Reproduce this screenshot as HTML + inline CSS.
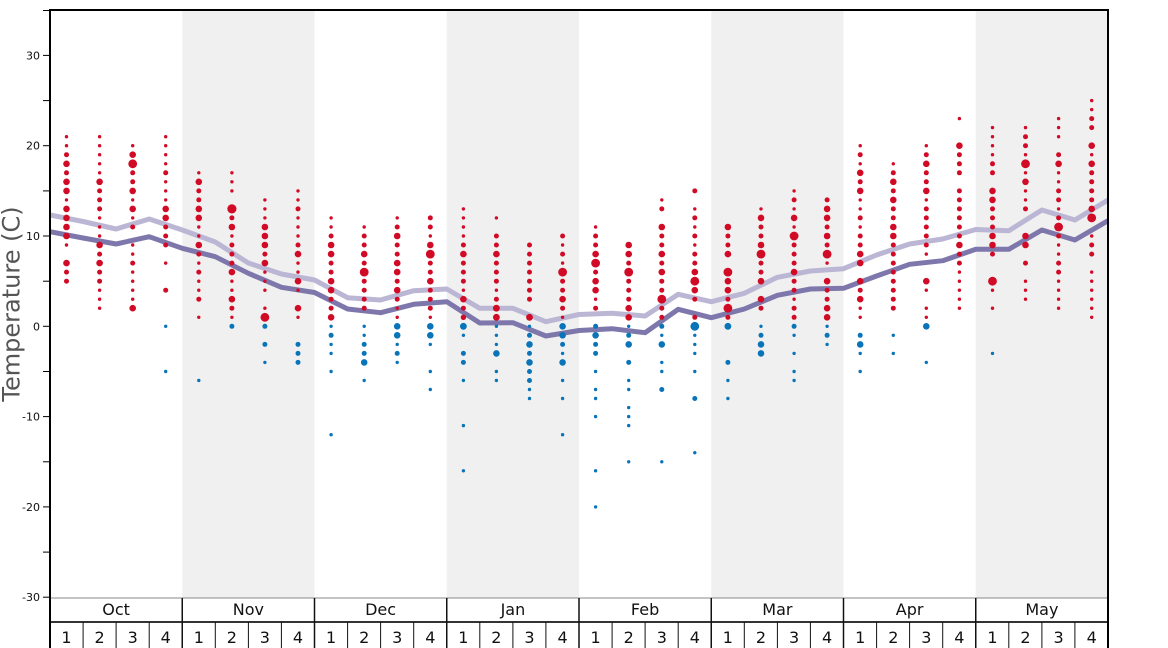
<!DOCTYPE html>
<html><head><meta charset="utf-8"><style>
html,body{margin:0;padding:0;background:#fff;}
svg{display:block;font-family:"DejaVu Sans","Liberation Sans",sans-serif;}
.r{fill:#d10a26}.b{fill:#0a74b9}
</style></head><body>
<svg width="1168" height="648" viewBox="0 0 1168 648" xmlns="http://www.w3.org/2000/svg">
<rect x="0" y="0" width="1168" height="648" fill="#fff"/>
<g fill="#f0f0f0">
<rect x="182.25" y="10" width="132.25" height="588"/>
<rect x="446.75" y="10" width="132.25" height="588"/>
<rect x="711.25" y="10" width="132.25" height="588"/>
<rect x="975.75" y="10" width="132.25" height="588"/>
</g>
<polyline fill="none" stroke="#bab6d4" stroke-width="5" stroke-linejoin="round" points="50,215 83.1,221.5 116.1,229 149.2,219 182.3,230 215.3,242 248.4,263 281.4,274 314.5,280 347.6,297.7 380.6,300 413.7,290.7 446.8,289 479.8,308.3 512.9,308.3 545.9,321.7 579,314.5 612.1,313.3 645.1,316 678.2,294.3 711.3,301.7 744.3,293.3 777.4,277.3 810.4,271 843.5,268.7 876.6,255 909.6,244 942.7,239 975.8,229.5 1008.8,230.7 1041.9,210 1074.9,220 1108,200"/>
<polyline fill="none" stroke="#7e77ab" stroke-width="5" stroke-linejoin="round" points="50,231.7 83.1,238 116.1,244 149.2,236.7 182.3,248.3 215.3,256.7 248.4,273.3 281.4,287.3 314.5,292.5 347.6,309 380.6,312.7 413.7,304.3 446.8,301.7 479.8,323 512.9,322.7 545.9,336 579,330.5 612.1,328.7 645.1,332.7 678.2,309.3 711.3,317.7 744.3,309 777.4,295.3 810.4,289 843.5,288.3 876.6,276 909.6,264.3 942.7,260.7 975.8,249.3 1008.8,249.3 1041.9,230 1074.9,240 1108,220.7"/>

<!-- Oct 1 -->
<g transform="translate(66.5,0)" class="r"><circle cy="136.7" r="1.7"/><circle cy="145.7" r="1.7"/><circle cy="154.7" r="2.5"/><circle cy="163.8" r="3.3"/><circle cy="172.8" r="2.5"/><circle cy="181.8" r="3.3"/><circle cy="190.9" r="3.3"/><circle cy="199.9" r="1.7"/><circle cy="208.9" r="3.3"/><circle cy="217.9" r="3.3"/><circle cy="227" r="3.3"/><circle cy="236" r="3.3"/><circle cy="245" r="1.7"/><circle cy="263.1" r="3.3"/><circle cy="272.1" r="2.5"/><circle cy="281.2" r="2.5"/></g>
<!-- Oct 2 -->
<g transform="translate(99.6,0)" class="r"><circle cy="136.7" r="1.7"/><circle cy="145.7" r="1.7"/><circle cy="154.7" r="1.7"/><circle cy="163.8" r="1.7"/><circle cy="172.8" r="1.7"/><circle cy="181.8" r="3.3"/><circle cy="190.9" r="2.5"/><circle cy="199.9" r="2.5"/><circle cy="208.9" r="2.5"/><circle cy="217.9" r="1.7"/><circle cy="227" r="1.7"/><circle cy="236" r="1.7"/><circle cy="245" r="3.3"/><circle cy="254.1" r="2.5"/><circle cy="263.1" r="3.3"/><circle cy="272.1" r="2.5"/><circle cy="281.2" r="2.5"/><circle cy="290.2" r="1.7"/><circle cy="299.2" r="1.7"/><circle cy="308.2" r="1.7"/></g>
<!-- Oct 3 -->
<g transform="translate(132.7,0)" class="r"><circle cy="145.7" r="1.7"/><circle cy="154.7" r="3.3"/><circle cy="163.8" r="4.4"/><circle cy="172.8" r="2.5"/><circle cy="181.8" r="2.5"/><circle cy="190.9" r="3.3"/><circle cy="199.9" r="1.7"/><circle cy="208.9" r="3.3"/><circle cy="217.9" r="1.7"/><circle cy="227" r="2.5"/><circle cy="245" r="1.7"/><circle cy="254.1" r="1.7"/><circle cy="263.1" r="2.5"/><circle cy="272.1" r="1.7"/><circle cy="281.2" r="1.7"/><circle cy="290.2" r="1.7"/><circle cy="299.2" r="1.7"/><circle cy="308.2" r="3.3"/></g>
<!-- Oct 4 -->
<g transform="translate(165.7,0)"><g class="r"><circle cy="136.7" r="1.7"/><circle cy="145.7" r="1.7"/><circle cy="154.7" r="1.7"/><circle cy="163.8" r="1.7"/><circle cy="172.8" r="2.5"/><circle cy="181.8" r="1.7"/><circle cy="190.9" r="1.7"/><circle cy="199.9" r="1.7"/><circle cy="208.9" r="3.3"/><circle cy="217.9" r="3.3"/><circle cy="227" r="2.5"/><circle cy="236" r="2.5"/><circle cy="245" r="2.5"/><circle cy="263.1" r="1.7"/><circle cy="290.2" r="2.5"/></g><g class="b"><circle cy="326.3" r="1.7"/><circle cy="371.5" r="1.7"/></g></g>
<!-- Nov 1 -->
<g transform="translate(198.8,0)"><g class="r"><circle cy="172.8" r="1.7"/><circle cy="181.8" r="3.3"/><circle cy="190.9" r="2.5"/><circle cy="199.9" r="2.5"/><circle cy="208.9" r="3.3"/><circle cy="217.9" r="3.3"/><circle cy="227" r="1.7"/><circle cy="236" r="1.7"/><circle cy="245" r="3.3"/><circle cy="254.1" r="2.5"/><circle cy="263.1" r="1.7"/><circle cy="272.1" r="2.5"/><circle cy="281.2" r="1.7"/><circle cy="290.2" r="1.7"/><circle cy="299.2" r="2.5"/><circle cy="317.3" r="1.7"/></g><g class="b"><circle cy="380.5" r="1.7"/></g></g>
<!-- Nov 2 -->
<g transform="translate(231.9,0)"><g class="r"><circle cy="172.8" r="1.7"/><circle cy="181.8" r="1.7"/><circle cy="190.9" r="1.7"/><circle cy="208.9" r="4.6"/><circle cy="217.9" r="2.5"/><circle cy="227" r="3.3"/><circle cy="236" r="1.7"/><circle cy="245" r="2.5"/><circle cy="254.1" r="2.5"/><circle cy="263.1" r="2.5"/><circle cy="272.1" r="3.3"/><circle cy="281.2" r="1.7"/><circle cy="290.2" r="1.7"/><circle cy="299.2" r="3.3"/><circle cy="308.2" r="2.5"/><circle cy="317.3" r="1.7"/></g><g class="b"><circle cy="326.3" r="2.5"/></g></g>
<!-- Nov 3 -->
<g transform="translate(264.9,0)"><g class="r"><circle cy="199.9" r="1.7"/><circle cy="208.9" r="1.7"/><circle cy="217.9" r="1.7"/><circle cy="227" r="3.3"/><circle cy="236" r="3.3"/><circle cy="245" r="3.3"/><circle cy="254.1" r="2.5"/><circle cy="263.1" r="3.3"/><circle cy="272.1" r="1.7"/><circle cy="281.2" r="1.7"/><circle cy="290.2" r="1.7"/><circle cy="308.2" r="1.7"/><circle cy="317.3" r="4.4"/></g><g class="b"><circle cy="326.3" r="2.5"/><circle cy="344.4" r="2.5"/><circle cy="362.4" r="1.7"/></g></g>
<!-- Nov 4 -->
<g transform="translate(298,0)"><g class="r"><circle cy="190.9" r="1.7"/><circle cy="199.9" r="1.7"/><circle cy="208.9" r="2.5"/><circle cy="217.9" r="1.7"/><circle cy="227" r="1.7"/><circle cy="236" r="1.7"/><circle cy="245" r="2.5"/><circle cy="254.1" r="3.3"/><circle cy="263.1" r="1.7"/><circle cy="272.1" r="1.7"/><circle cy="281.2" r="3.3"/><circle cy="290.2" r="1.7"/><circle cy="308.2" r="3.3"/><circle cy="317.3" r="1.7"/></g><g class="b"><circle cy="344.4" r="2.5"/><circle cy="353.4" r="2.5"/><circle cy="362.4" r="2.5"/></g></g>
<!-- Dec 1 -->
<g transform="translate(331.1,0)"><g class="r"><circle cy="217.9" r="1.7"/><circle cy="227" r="1.7"/><circle cy="236" r="2.5"/><circle cy="245" r="3.3"/><circle cy="254.1" r="3.3"/><circle cy="263.1" r="2.5"/><circle cy="272.1" r="2.5"/><circle cy="281.2" r="3.3"/><circle cy="290.2" r="3.3"/><circle cy="299.2" r="2.5"/><circle cy="308.2" r="2.5"/><circle cy="317.3" r="3.3"/></g><g class="b"><circle cy="326.3" r="1.7"/><circle cy="335.3" r="2.5"/><circle cy="344.4" r="1.7"/><circle cy="353.4" r="1.7"/><circle cy="371.5" r="1.7"/><circle cy="434.7" r="1.7"/></g></g>
<!-- Dec 2 -->
<g transform="translate(364.2,0)"><g class="r"><circle cy="227" r="1.7"/><circle cy="236" r="2.5"/><circle cy="245" r="2.5"/><circle cy="254.1" r="3.3"/><circle cy="263.1" r="2.5"/><circle cy="272.1" r="4.4"/><circle cy="281.2" r="2.5"/><circle cy="290.2" r="2.5"/><circle cy="299.2" r="2.5"/><circle cy="308.2" r="2.5"/></g><g class="b"><circle cy="326.3" r="1.7"/><circle cy="335.3" r="1.7"/><circle cy="344.4" r="2.5"/><circle cy="353.4" r="2.5"/><circle cy="362.4" r="3.3"/><circle cy="380.5" r="1.7"/></g></g>
<!-- Dec 3 -->
<g transform="translate(397.2,0)"><g class="r"><circle cy="217.9" r="1.7"/><circle cy="227" r="2.5"/><circle cy="236" r="3.3"/><circle cy="245" r="2.5"/><circle cy="254.1" r="2.5"/><circle cy="263.1" r="3.3"/><circle cy="272.1" r="3.3"/><circle cy="281.2" r="2.5"/><circle cy="290.2" r="3.3"/><circle cy="299.2" r="2.5"/><circle cy="308.2" r="1.7"/><circle cy="317.3" r="1.7"/></g><g class="b"><circle cy="326.3" r="3.3"/><circle cy="335.3" r="3.3"/><circle cy="344.4" r="1.7"/><circle cy="353.4" r="2.5"/><circle cy="362.4" r="1.7"/></g></g>
<!-- Dec 4 -->
<g transform="translate(430.3,0)"><g class="r"><circle cy="217.9" r="2.5"/><circle cy="227" r="2.5"/><circle cy="236" r="1.7"/><circle cy="245" r="3.3"/><circle cy="254.1" r="4.4"/><circle cy="263.1" r="2.5"/><circle cy="272.1" r="2.5"/><circle cy="281.2" r="3.3"/><circle cy="290.2" r="2.5"/><circle cy="299.2" r="2.5"/><circle cy="308.2" r="2.5"/><circle cy="317.3" r="1.7"/></g><g class="b"><circle cy="326.3" r="3.3"/><circle cy="335.3" r="3.3"/><circle cy="344.4" r="1.7"/><circle cy="371.5" r="1.7"/><circle cy="389.5" r="1.7"/></g></g>
<!-- Jan 1 -->
<g transform="translate(463.4,0)"><g class="r"><circle cy="208.9" r="1.7"/><circle cy="217.9" r="1.7"/><circle cy="227" r="1.7"/><circle cy="236" r="1.7"/><circle cy="245" r="2.5"/><circle cy="254.1" r="3.3"/><circle cy="263.1" r="2.5"/><circle cy="272.1" r="2.5"/><circle cy="281.2" r="2.5"/><circle cy="290.2" r="1.7"/><circle cy="299.2" r="3.3"/><circle cy="308.2" r="2.5"/><circle cy="317.3" r="2.7"/></g><g class="b"><circle cy="326.3" r="3.4"/><circle cy="335.3" r="1.7"/><circle cy="353.4" r="2.5"/><circle cy="362.4" r="2.5"/><circle cy="380.5" r="1.7"/><circle cy="425.6" r="1.7"/><circle cy="470.8" r="1.7"/></g></g>
<!-- Jan 2 -->
<g transform="translate(496.4,0)"><g class="r"><circle cy="217.9" r="1.7"/><circle cy="236" r="2.5"/><circle cy="245" r="2.5"/><circle cy="254.1" r="3.3"/><circle cy="263.1" r="2.5"/><circle cy="272.1" r="2.5"/><circle cy="281.2" r="2.5"/><circle cy="290.2" r="1.7"/><circle cy="299.2" r="2.5"/><circle cy="308.2" r="3.4"/><circle cy="317.3" r="3.4"/></g><g class="b"><circle cy="326.3" r="1.7"/><circle cy="335.3" r="1.7"/><circle cy="344.4" r="1.7"/><circle cy="353.4" r="3.3"/><circle cy="371.5" r="1.7"/><circle cy="380.5" r="1.7"/></g></g>
<!-- Jan 3 -->
<g transform="translate(529.5,0)"><g class="r"><circle cy="245" r="2.5"/><circle cy="254.1" r="2.5"/><circle cy="263.1" r="2.5"/><circle cy="272.1" r="2.5"/><circle cy="281.2" r="2.5"/><circle cy="290.2" r="2.5"/><circle cy="299.2" r="2.5"/><circle cy="317.3" r="3.4"/></g><g class="b"><circle cy="326.3" r="1.7"/><circle cy="335.3" r="2.5"/><circle cy="344.4" r="3.3"/><circle cy="353.4" r="2.5"/><circle cy="362.4" r="3.3"/><circle cy="371.5" r="2.5"/><circle cy="380.5" r="2.5"/><circle cy="389.5" r="1.7"/><circle cy="398.5" r="1.7"/></g></g>
<!-- Jan 4 -->
<g transform="translate(562.6,0)"><g class="r"><circle cy="236" r="2.5"/><circle cy="245" r="1.7"/><circle cy="254.1" r="2.5"/><circle cy="263.1" r="1.7"/><circle cy="272.1" r="4.4"/><circle cy="281.2" r="2.5"/><circle cy="290.2" r="2.5"/><circle cy="299.2" r="3.3"/><circle cy="308.2" r="2.5"/><circle cy="317.3" r="1.7"/></g><g class="b"><circle cy="326.3" r="3.3"/><circle cy="335.3" r="3.3"/><circle cy="344.4" r="2.5"/><circle cy="353.4" r="1.7"/><circle cy="362.4" r="3.3"/><circle cy="380.5" r="1.7"/><circle cy="398.5" r="1.7"/><circle cy="434.7" r="1.7"/></g></g>
<!-- Feb 1 -->
<g transform="translate(595.6,0)"><g class="r"><circle cy="227" r="1.7"/><circle cy="236" r="2.5"/><circle cy="245" r="2.5"/><circle cy="254.1" r="3.3"/><circle cy="263.1" r="4.4"/><circle cy="272.1" r="2.5"/><circle cy="281.2" r="3.3"/><circle cy="290.2" r="3.3"/><circle cy="299.2" r="1.7"/><circle cy="308.2" r="2.5"/></g><g class="b"><circle cy="326.3" r="2.5"/><circle cy="335.3" r="3.3"/><circle cy="344.4" r="2.5"/><circle cy="353.4" r="2.5"/><circle cy="371.5" r="1.7"/><circle cy="389.5" r="1.7"/><circle cy="398.5" r="1.7"/><circle cy="416.6" r="1.7"/><circle cy="470.8" r="1.7"/><circle cy="506.9" r="1.7"/></g></g>
<!-- Feb 2 -->
<g transform="translate(628.7,0)"><g class="r"><circle cy="245" r="3.3"/><circle cy="254.1" r="3.3"/><circle cy="263.1" r="2.5"/><circle cy="272.1" r="4.4"/><circle cy="281.2" r="2.5"/><circle cy="290.2" r="2.5"/><circle cy="299.2" r="2.5"/><circle cy="308.2" r="3.3"/><circle cy="317.3" r="3.3"/></g><g class="b"><circle cy="326.3" r="1.7"/><circle cy="335.3" r="2.5"/><circle cy="344.4" r="3.3"/><circle cy="362.4" r="2.5"/><circle cy="380.5" r="1.7"/><circle cy="389.5" r="1.7"/><circle cy="407.6" r="1.7"/><circle cy="416.6" r="1.7"/><circle cy="425.6" r="1.7"/><circle cy="461.8" r="1.7"/></g></g>
<!-- Feb 3 -->
<g transform="translate(661.8,0)"><g class="r"><circle cy="199.9" r="1.7"/><circle cy="208.9" r="2.5"/><circle cy="227" r="3.3"/><circle cy="236" r="2.5"/><circle cy="245" r="2.5"/><circle cy="254.1" r="3.3"/><circle cy="263.1" r="2.5"/><circle cy="272.1" r="3.3"/><circle cy="281.2" r="2.5"/><circle cy="290.2" r="2.5"/><circle cy="299.2" r="4.4"/><circle cy="308.2" r="2.5"/><circle cy="317.3" r="2.5"/></g><g class="b"><circle cy="326.3" r="2.5"/><circle cy="335.3" r="1.7"/><circle cy="344.4" r="3.3"/><circle cy="362.4" r="1.7"/><circle cy="371.5" r="1.7"/><circle cy="389.5" r="2.5"/><circle cy="461.8" r="1.7"/></g></g>
<!-- Feb 4 -->
<g transform="translate(694.8,0)"><g class="r"><circle cy="190.9" r="2.5"/><circle cy="208.9" r="1.7"/><circle cy="217.9" r="2.5"/><circle cy="227" r="1.7"/><circle cy="236" r="2.5"/><circle cy="245" r="1.7"/><circle cy="254.1" r="2.5"/><circle cy="263.1" r="2.5"/><circle cy="272.1" r="3.3"/><circle cy="281.2" r="4.4"/><circle cy="290.2" r="3.3"/><circle cy="299.2" r="2.5"/><circle cy="317.3" r="2.5"/></g><g class="b"><circle cy="326.3" r="4.4"/><circle cy="335.3" r="1.7"/><circle cy="344.4" r="1.7"/><circle cy="353.4" r="1.7"/><circle cy="371.5" r="1.7"/><circle cy="398.5" r="2.5"/><circle cy="452.7" r="1.7"/></g></g>
<!-- Mar 1 -->
<g transform="translate(727.9,0)"><g class="r"><circle cy="227" r="3.3"/><circle cy="236" r="2.5"/><circle cy="245" r="2.5"/><circle cy="254.1" r="3.3"/><circle cy="272.1" r="4.4"/><circle cy="281.2" r="3.3"/><circle cy="290.2" r="3.3"/><circle cy="299.2" r="2.5"/><circle cy="308.2" r="4.4"/><circle cy="317.3" r="2.5"/></g><g class="b"><circle cy="326.3" r="3.4"/><circle cy="362.4" r="2.5"/><circle cy="380.5" r="1.7"/><circle cy="398.5" r="1.7"/></g></g>
<!-- Mar 2 -->
<g transform="translate(761,0)"><g class="r"><circle cy="208.9" r="1.7"/><circle cy="217.9" r="3.3"/><circle cy="227" r="2.5"/><circle cy="236" r="2.5"/><circle cy="245" r="3.3"/><circle cy="254.1" r="4.4"/><circle cy="263.1" r="2.5"/><circle cy="272.1" r="2.5"/><circle cy="281.2" r="3.3"/><circle cy="299.2" r="3.3"/><circle cy="308.2" r="2.5"/></g><g class="b"><circle cy="326.3" r="1.7"/><circle cy="335.3" r="2.5"/><circle cy="344.4" r="3.3"/><circle cy="353.4" r="3.3"/></g></g>
<!-- Mar 3 -->
<g transform="translate(794.1,0)"><g class="r"><circle cy="190.9" r="1.7"/><circle cy="199.9" r="2.5"/><circle cy="208.9" r="1.7"/><circle cy="217.9" r="3.3"/><circle cy="227" r="1.7"/><circle cy="236" r="4.4"/><circle cy="245" r="2.5"/><circle cy="254.1" r="2.5"/><circle cy="263.1" r="2.5"/><circle cy="272.1" r="3.3"/><circle cy="281.2" r="2.5"/><circle cy="290.2" r="2.5"/><circle cy="299.2" r="1.7"/><circle cy="308.2" r="2.5"/><circle cy="317.3" r="2.5"/></g><g class="b"><circle cy="326.3" r="2.5"/><circle cy="335.3" r="1.7"/><circle cy="353.4" r="1.7"/><circle cy="371.5" r="1.7"/><circle cy="380.5" r="1.7"/></g></g>
<!-- Mar 4 -->
<g transform="translate(827.1,0)"><g class="r"><circle cy="199.9" r="2.5"/><circle cy="208.9" r="3.3"/><circle cy="217.9" r="3.3"/><circle cy="227" r="2.5"/><circle cy="236" r="3.3"/><circle cy="245" r="2.5"/><circle cy="254.1" r="4.4"/><circle cy="263.1" r="1.7"/><circle cy="281.2" r="3.3"/><circle cy="290.2" r="2.5"/><circle cy="299.2" r="2.5"/><circle cy="308.2" r="3.3"/><circle cy="317.3" r="3.3"/></g><g class="b"><circle cy="326.3" r="1.7"/><circle cy="335.3" r="2.5"/><circle cy="344.4" r="1.7"/></g></g>
<!-- Apr 1 -->
<g transform="translate(860.2,0)"><g class="r"><circle cy="145.7" r="1.7"/><circle cy="154.7" r="2.5"/><circle cy="163.8" r="1.7"/><circle cy="172.8" r="3.3"/><circle cy="181.8" r="2.5"/><circle cy="190.9" r="3.3"/><circle cy="199.9" r="1.7"/><circle cy="208.9" r="1.7"/><circle cy="217.9" r="2.5"/><circle cy="227" r="1.7"/><circle cy="236" r="2.5"/><circle cy="245" r="2.5"/><circle cy="254.1" r="3.3"/><circle cy="263.1" r="3.3"/><circle cy="281.2" r="3.3"/><circle cy="290.2" r="2.5"/><circle cy="299.2" r="3.3"/><circle cy="308.2" r="1.7"/><circle cy="317.3" r="1.7"/></g><g class="b"><circle cy="335.3" r="2.5"/><circle cy="344.4" r="3.3"/><circle cy="353.4" r="1.7"/><circle cy="371.5" r="1.7"/></g></g>
<!-- Apr 2 -->
<g transform="translate(893.3,0)"><g class="r"><circle cy="163.8" r="1.7"/><circle cy="172.8" r="2.5"/><circle cy="181.8" r="3.3"/><circle cy="190.9" r="2.5"/><circle cy="199.9" r="3.3"/><circle cy="208.9" r="2.5"/><circle cy="217.9" r="2.5"/><circle cy="227" r="3.3"/><circle cy="236" r="3.3"/><circle cy="245" r="2.5"/><circle cy="254.1" r="2.5"/><circle cy="263.1" r="2.5"/><circle cy="272.1" r="2.5"/><circle cy="281.2" r="2.5"/><circle cy="290.2" r="2.5"/><circle cy="299.2" r="2.5"/><circle cy="308.2" r="2.5"/></g><g class="b"><circle cy="335.3" r="1.7"/><circle cy="353.4" r="1.7"/></g></g>
<!-- Apr 3 -->
<g transform="translate(926.3,0)"><g class="r"><circle cy="145.7" r="1.7"/><circle cy="154.7" r="2.5"/><circle cy="163.8" r="3.3"/><circle cy="172.8" r="2.5"/><circle cy="181.8" r="2.5"/><circle cy="190.9" r="3.3"/><circle cy="199.9" r="1.7"/><circle cy="208.9" r="2.5"/><circle cy="217.9" r="2.5"/><circle cy="227" r="2.5"/><circle cy="236" r="2.5"/><circle cy="245" r="2.5"/><circle cy="254.1" r="1.7"/><circle cy="281.2" r="3.3"/><circle cy="290.2" r="1.7"/><circle cy="308.2" r="1.7"/><circle cy="317.3" r="1.7"/></g><g class="b"><circle cy="326.3" r="3.3"/><circle cy="362.4" r="1.7"/></g></g>
<!-- Apr 4 -->
<g transform="translate(959.4,0)" class="r"><circle cy="118.6" r="1.7"/><circle cy="145.7" r="3.3"/><circle cy="154.7" r="2.5"/><circle cy="163.8" r="2.5"/><circle cy="172.8" r="2.5"/><circle cy="190.9" r="2.5"/><circle cy="199.9" r="2.5"/><circle cy="208.9" r="2.5"/><circle cy="217.9" r="2.5"/><circle cy="227" r="2.5"/><circle cy="236" r="2.5"/><circle cy="245" r="3.3"/><circle cy="254.1" r="2.5"/><circle cy="263.1" r="2.5"/><circle cy="272.1" r="1.7"/><circle cy="281.2" r="1.7"/><circle cy="290.2" r="1.7"/><circle cy="299.2" r="1.7"/><circle cy="308.2" r="1.7"/></g>
<!-- May 1 -->
<g transform="translate(992.5,0)"><g class="r"><circle cy="127.6" r="1.7"/><circle cy="136.7" r="1.7"/><circle cy="145.7" r="1.7"/><circle cy="154.7" r="1.7"/><circle cy="163.8" r="2.5"/><circle cy="172.8" r="2.5"/><circle cy="190.9" r="3.3"/><circle cy="199.9" r="3.3"/><circle cy="208.9" r="2.5"/><circle cy="217.9" r="2.5"/><circle cy="227" r="2.5"/><circle cy="236" r="3.3"/><circle cy="245" r="3.3"/><circle cy="254.1" r="2.5"/><circle cy="281.2" r="4.4"/><circle cy="290.2" r="1.7"/><circle cy="308.2" r="1.7"/></g><g class="b"><circle cy="353.4" r="1.7"/></g></g>
<!-- May 2 -->
<g transform="translate(1025.5,0)" class="r"><circle cy="127.6" r="1.7"/><circle cy="136.7" r="2.5"/><circle cy="145.7" r="2.5"/><circle cy="154.7" r="1.7"/><circle cy="163.8" r="4.4"/><circle cy="172.8" r="1.7"/><circle cy="181.8" r="3.3"/><circle cy="190.9" r="1.7"/><circle cy="199.9" r="1.7"/><circle cy="208.9" r="2.5"/><circle cy="236" r="3.3"/><circle cy="245" r="3.3"/><circle cy="263.1" r="2.5"/><circle cy="281.2" r="1.7"/><circle cy="290.2" r="1.7"/><circle cy="299.2" r="1.7"/></g>
<!-- May 3 -->
<g transform="translate(1058.6,0)" class="r"><circle cy="118.6" r="1.7"/><circle cy="127.6" r="1.7"/><circle cy="136.7" r="1.7"/><circle cy="154.7" r="2.5"/><circle cy="163.8" r="3.3"/><circle cy="172.8" r="1.7"/><circle cy="181.8" r="1.7"/><circle cy="190.9" r="2.5"/><circle cy="199.9" r="2.5"/><circle cy="208.9" r="1.7"/><circle cy="217.9" r="2.5"/><circle cy="227" r="4.4"/><circle cy="236" r="2.5"/><circle cy="245" r="1.7"/><circle cy="254.1" r="1.7"/><circle cy="263.1" r="2.5"/><circle cy="272.1" r="2.5"/><circle cy="281.2" r="1.7"/><circle cy="290.2" r="1.7"/><circle cy="299.2" r="1.7"/><circle cy="308.2" r="1.7"/></g>
<!-- May 4 -->
<g transform="translate(1091.7,0)" class="r"><circle cy="100.6" r="1.7"/><circle cy="109.6" r="1.7"/><circle cy="118.6" r="2.5"/><circle cy="127.6" r="2.5"/><circle cy="145.7" r="3.3"/><circle cy="154.7" r="1.7"/><circle cy="163.8" r="3.3"/><circle cy="172.8" r="2.5"/><circle cy="181.8" r="2.5"/><circle cy="190.9" r="2.5"/><circle cy="199.9" r="2.5"/><circle cy="208.9" r="3.3"/><circle cy="217.9" r="4.4"/><circle cy="236" r="1.7"/><circle cy="245" r="2.5"/><circle cy="254.1" r="2.5"/><circle cy="272.1" r="1.7"/><circle cy="281.2" r="1.7"/><circle cy="290.2" r="1.7"/><circle cy="299.2" r="1.7"/><circle cy="308.2" r="1.7"/><circle cy="317.3" r="1.7"/></g>

<!-- bottom axis -->
<line x1="50" y1="598" x2="1108" y2="598" stroke="#888" stroke-width="1"/>
<line x1="50" y1="622" x2="1108" y2="622" stroke="#333" stroke-width="2"/>
<g stroke="#111" stroke-width="1.5">
<line x1="182.25" y1="598" x2="182.25" y2="648"/>
<line x1="314.5" y1="598" x2="314.5" y2="648"/>
<line x1="446.75" y1="598" x2="446.75" y2="648"/>
<line x1="579" y1="598" x2="579" y2="648"/>
<line x1="711.25" y1="598" x2="711.25" y2="648"/>
<line x1="843.5" y1="598" x2="843.5" y2="648"/>
<line x1="975.75" y1="598" x2="975.75" y2="648"/>
</g>
<g stroke="#111" stroke-width="1">
<line x1="83.1" y1="622" x2="83.1" y2="648"/><line x1="116.1" y1="622" x2="116.1" y2="648"/><line x1="149.2" y1="622" x2="149.2" y2="648"/>
<line x1="215.3" y1="622" x2="215.3" y2="648"/><line x1="248.4" y1="622" x2="248.4" y2="648"/><line x1="281.4" y1="622" x2="281.4" y2="648"/>
<line x1="347.6" y1="622" x2="347.6" y2="648"/><line x1="380.6" y1="622" x2="380.6" y2="648"/><line x1="413.7" y1="622" x2="413.7" y2="648"/>
<line x1="479.8" y1="622" x2="479.8" y2="648"/><line x1="512.9" y1="622" x2="512.9" y2="648"/><line x1="545.9" y1="622" x2="545.9" y2="648"/>
<line x1="612.1" y1="622" x2="612.1" y2="648"/><line x1="645.1" y1="622" x2="645.1" y2="648"/><line x1="678.2" y1="622" x2="678.2" y2="648"/>
<line x1="744.3" y1="622" x2="744.3" y2="648"/><line x1="777.4" y1="622" x2="777.4" y2="648"/><line x1="810.4" y1="622" x2="810.4" y2="648"/>
<line x1="876.6" y1="622" x2="876.6" y2="648"/><line x1="909.6" y1="622" x2="909.6" y2="648"/><line x1="942.7" y1="622" x2="942.7" y2="648"/>
<line x1="1008.8" y1="622" x2="1008.8" y2="648"/><line x1="1041.9" y1="622" x2="1041.9" y2="648"/><line x1="1074.9" y1="622" x2="1074.9" y2="648"/>
</g>
<g font-size="16" fill="#111" text-anchor="middle">
<text x="116.1" y="615">Oct</text><text x="248.4" y="615">Nov</text><text x="380.6" y="615">Dec</text><text x="512.9" y="615">Jan</text>
<text x="645.1" y="615">Feb</text><text x="777.4" y="615">Mar</text><text x="909.6" y="615">Apr</text><text x="1041.9" y="615">May</text>
</g>
<g font-size="16" fill="#111" text-anchor="middle">
<text x="66.5" y="643">1</text><text x="99.6" y="643">2</text><text x="132.7" y="643">3</text><text x="165.7" y="643">4</text>
<text x="198.8" y="643">1</text><text x="231.9" y="643">2</text><text x="264.9" y="643">3</text><text x="298" y="643">4</text>
<text x="331.1" y="643">1</text><text x="364.2" y="643">2</text><text x="397.2" y="643">3</text><text x="430.3" y="643">4</text>
<text x="463.4" y="643">1</text><text x="496.4" y="643">2</text><text x="529.5" y="643">3</text><text x="562.6" y="643">4</text>
<text x="595.6" y="643">1</text><text x="628.7" y="643">2</text><text x="661.8" y="643">3</text><text x="694.8" y="643">4</text>
<text x="727.9" y="643">1</text><text x="761" y="643">2</text><text x="794.1" y="643">3</text><text x="827.1" y="643">4</text>
<text x="860.2" y="643">1</text><text x="893.3" y="643">2</text><text x="926.3" y="643">3</text><text x="959.4" y="643">4</text>
<text x="992.5" y="643">1</text><text x="1025.5" y="643">2</text><text x="1058.6" y="643">3</text><text x="1091.7" y="643">4</text>
</g>

<!-- frame -->
<line x1="49" y1="10" x2="1109" y2="10" stroke="#000" stroke-width="2"/>
<line x1="50" y1="9" x2="50" y2="648" stroke="#000" stroke-width="2"/>
<line x1="1108" y1="9" x2="1108" y2="648" stroke="#000" stroke-width="2"/>

<!-- y ticks -->
<g stroke="#000" stroke-width="1">
<line x1="43" y1="10.5" x2="50" y2="10.5"/><line x1="43" y1="55.4" x2="50" y2="55.4"/><line x1="43" y1="100.6" x2="50" y2="100.6"/>
<line x1="43" y1="145.7" x2="50" y2="145.7"/><line x1="43" y1="190.9" x2="50" y2="190.9"/><line x1="43" y1="236" x2="50" y2="236"/>
<line x1="43" y1="281.2" x2="50" y2="281.2"/><line x1="43" y1="326.3" x2="50" y2="326.3"/><line x1="43" y1="371.5" x2="50" y2="371.5"/>
<line x1="43" y1="416.6" x2="50" y2="416.6"/><line x1="43" y1="461.8" x2="50" y2="461.8"/><line x1="43" y1="506.9" x2="50" y2="506.9"/>
<line x1="43" y1="552.1" x2="50" y2="552.1"/><line x1="43" y1="597.2" x2="50" y2="597.2"/>
</g>
<g font-size="11" fill="#111" text-anchor="end">
<text x="40" y="59.4">30</text><text x="40" y="149.7">20</text><text x="40" y="240">10</text><text x="40" y="330.3">0</text>
<text x="40" y="420.6">-10</text><text x="40" y="510.9">-20</text><text x="40" y="601.2">-30</text>
</g>
<text transform="translate(19.5,304) rotate(-90)" font-size="24" fill="#555" text-anchor="middle">Temperature (C)</text>
</svg>
</body></html>
